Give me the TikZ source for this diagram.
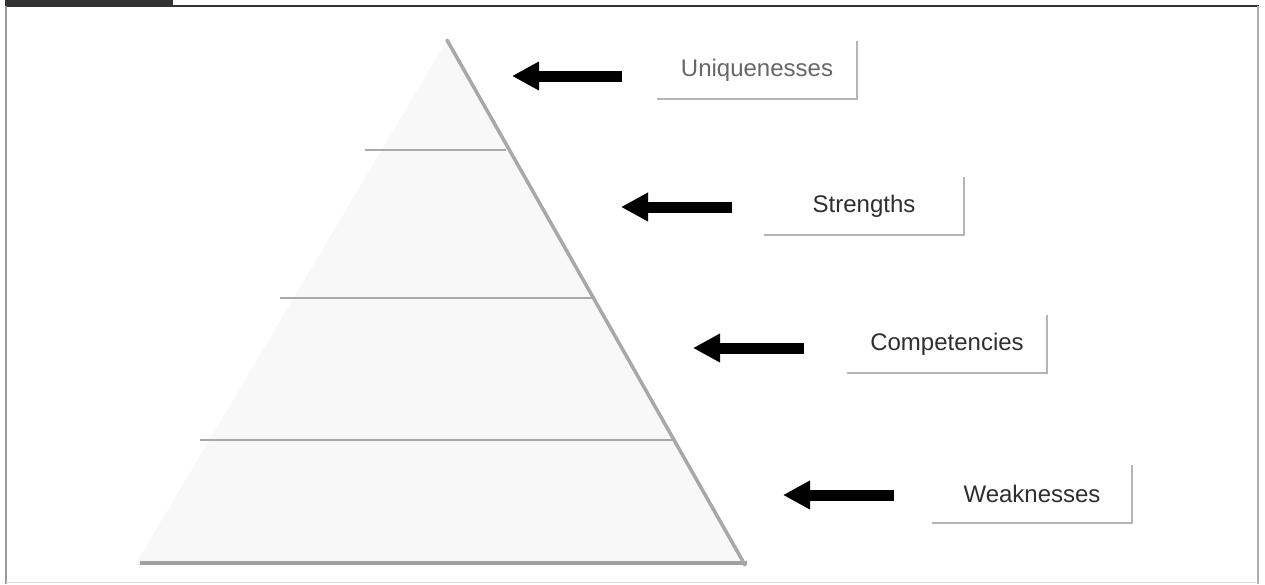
\documentclass[tikz,border=0pt]{standalone}
\usepackage{fontspec}
\setmainfont{Liberation Sans}
\usetikzlibrary{arrows.meta}
\definecolor{framedark}{HTML}{333333}
\definecolor{frameside}{HTML}{9A9A9A}
\definecolor{pyrfill}{HTML}{F8F8F8}
\definecolor{pyredge}{HTML}{A8A8A8}
\definecolor{boxline}{HTML}{B5B5B5}
\definecolor{txt}{HTML}{2E2E2E}
\tikzset{
  lbl/.style={minimum width=200pt, minimum height=58pt, inner sep=0pt,
    font=\fontsize{24}{28}\selectfont, text=txt},
  blockarrow/.style={line width=11pt, black,
    -{Triangle[length=27pt,width=27pt]}},
  tierline/.style={pyredge, line width=2pt},
  boxedge/.style={boxline, line width=2.2pt},
}
\begin{document}
\begin{tikzpicture}[x=1pt,y=-1pt]
\useasboundingbox (0,0) rectangle (1265,584);
% frame
\fill[framedark] (5,0) rectangle (173,7);
\draw[framedark, line width=2pt] (5,6) -- (1259,6);
\draw[frameside, line width=2pt] (6,6) -- (6,584);
\draw[frameside!80, line width=1.6pt] (1258,6) -- (1258,584);
\draw[gray!25, line width=1pt] (6,582) -- (1258,582);
% pyramid
\coordinate (apex) at (447,40);
\coordinate (bl) at (135,565);
\coordinate (br) at (745,565);
\fill[pyrfill] (apex) -- (br) -- (bl) -- cycle;
\draw[tierline] (365,150) -- (506,150);
\draw[tierline] (280,298) -- (592,298);
\draw[tierline] (200,440) -- (673,440);
\draw[pyredge!95!black, line width=4pt] (140,563) -- (747,563);
\draw[pyredge, line width=3.5pt, line cap=round] (apex) -- (br);
% labels
\node[lbl, text=gray!80!black] (u) at (757,70) {Uniquenesses};
\node[lbl] (s) at (864,206) {Strengths};
\node[lbl] (c) at (947,344) {Competencies};
\node[lbl] (w) at (1032,494) {Weaknesses};
\foreach \n in {u,s,c,w}{
  \draw[boxedge] (\n.north east) -- (\n.south east) -- (\n.south west);
}
% arrows
\coordinate (ut) at (622,76);  \coordinate (uh) at (512,76);
\coordinate (st) at (732,207); \coordinate (sh) at (621,207);
\coordinate (ct) at (804,348); \coordinate (ch) at (693,348);
\coordinate (wt) at (894,495); \coordinate (wh) at (783,495);
\draw[blockarrow] (ut) -- (uh);
\draw[blockarrow] (st) -- (sh);
\draw[blockarrow] (ct) -- (ch);
\draw[blockarrow] (wt) -- (wh);
\end{tikzpicture}
\end{document}
